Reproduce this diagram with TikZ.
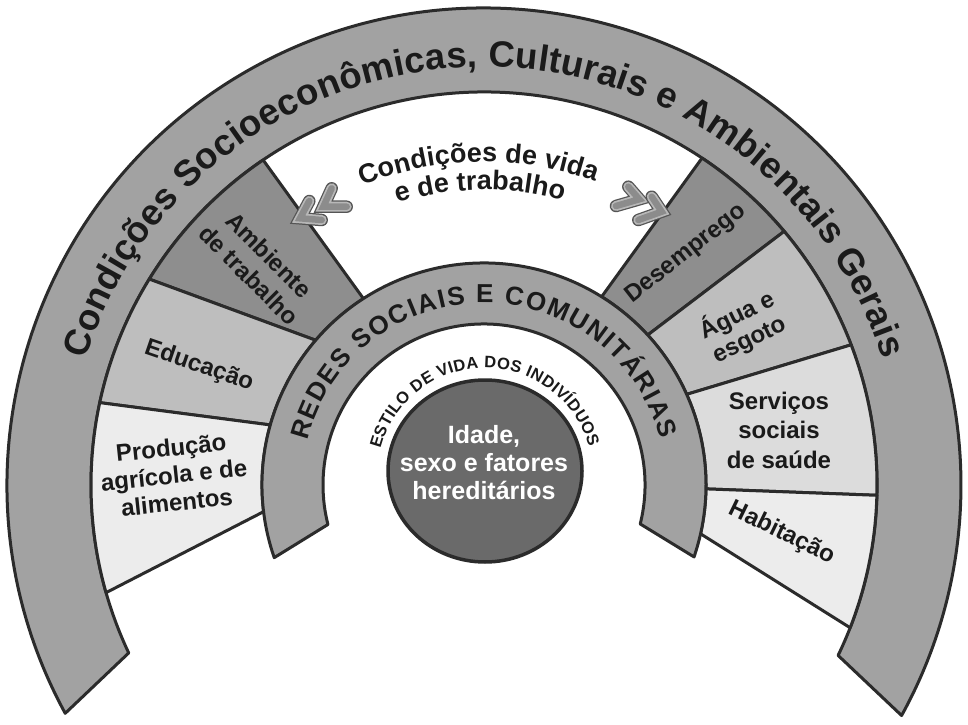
\documentclass[tikz,border=0pt]{standalone}
\usepackage{fontspec}
\setmainfont{Liberation Sans}
\usetikzlibrary{decorations.text}
\definecolor{ringc}{HTML}{A2A2A2}
\definecolor{darkc}{HTML}{8E8E8E}
\definecolor{medc}{HTML}{BEBEBE}
\definecolor{lightc}{HTML}{DCDCDC}
\definecolor{palec}{HTML}{ECECEC}
\definecolor{corec}{HTML}{6A6A6A}
\definecolor{linec}{HTML}{2B2B2B}
\definecolor{txtc}{HTML}{1A1A1A}
\definecolor{chevc}{HTML}{8C8C8C}
\definecolor{chevrim}{HTML}{B8B8B8}
\newcommand\ringfont{\fontsize{36.5}{40}\selectfont\bfseries\color{txtc}}
\newcommand\redesfont{\fontsize{26}{29}\selectfont\bfseries\color{txtc}}
\newcommand\estilofont{\fontsize{16.5}{18}\selectfont\bfseries\color{txtc}}
\newcommand\vidafont{\fontsize{27}{30}\selectfont\bfseries\color{txtc}}
\tikzset{
  ringline/.style={draw=linec, line width=3, line join=round},
  celltext/.style={font=\fontsize{24}{28.5}\selectfont\bfseries, text=txtc, align=center, inner sep=0pt},
  chevout/.style={line width=12.5, draw=linec!80, line join=miter, line cap=round},
  chevmid/.style={line width=10, draw=chevrim, line join=miter, line cap=round},
  chevin/.style={line width=6.5, draw=chevc, line join=miter, line cap=round}
}
\newcommand\dgcell[5]{\filldraw[ringline, fill=#1] (#2:393) arc[start angle=#2, end angle=#3, radius=393] -- (#4:222) arc[start angle=#4, end angle=#5, radius=222] -- cycle;}
\newcommand\dgchev[3]{\draw[chevout] #1 -- #2 -- #3; \draw[chevmid] #1 -- #2 -- #3; \draw[chevin] #1 -- #2 -- #3;}
\begin{document}
\begin{tikzpicture}[x=1pt,y=1pt]
\useasboundingbox (0,0) rectangle (968,724);
\fill[white] (0,0) rectangle (968,724);
\begin{scope}[shift={(484,239)}]
  % outer ring
  \filldraw[ringline, fill=ringc] (208.6:477) arc[start angle=208.6, end angle=-28.9, radius=477] -- (-25.7:393) arc[start angle=-25.7, end angle=205.3, radius=393] -- cycle;
  % cells left
  \dgcell{darkc}{124.2}{148.4}{139.3}{122.9}
  \dgcell{medc}{148.4}{167.9}{164.3}{139.3}
  \dgcell{palec}{167.9}{195.9}{186.9}{164.3}
  % cells right
  \dgcell{darkc}{56.3}{40.2}{42.5}{58}
  \dgcell{medc}{40.2}{20.9}{24.1}{42.5}
  \dgcell{lightc}{20.9}{-1.5}{-1}{24.1}
  \dgcell{palec}{-1.5}{-21.3}{-12.7}{-1}
  % middle ring
  \filldraw[ringline, fill=ringc] (199.1:222) arc[start angle=199.1, end angle=-18.9, radius=222] -- (-14:161) arc[start angle=-14, end angle=194.2, radius=161] -- cycle;
  % texts along arcs
  \path[decorate, decoration={text along path, text={|\ringfont|Condições Socioeconômicas{,} Culturais e Ambientais Gerais}, text align=fit to path}] (162.5:418) arc[start angle=162.5, end angle=17.5, radius=418];
  \path[decorate, decoration={text along path, text={|\redesfont|REDES SOCIAIS E COMUNITÁRIAS}, text align=fit to path}] (166:182) arc[start angle=166, end angle=14.5, radius=182];
  \path[decorate, decoration={text along path, text={|\vidafont|Condições de vida}, text align=center}] (151:323) arc[start angle=151, end angle=31, radius=323];
  \path[decorate, decoration={text along path, text={|\vidafont|e de trabalho}, text align=center}] (150.8:295) arc[start angle=150.8, end angle=30.8, radius=295];
\end{scope}
% core
\filldraw[ringline, line width=3.5, fill=corec] (485,253) ellipse[x radius=97, y radius=91];
\begin{scope}[shift={(485,248)}]
  \path[decorate, decoration={text along path, text={|\estilofont|ESTILO DE VIDA DOS INDIVÍDUOS}, text align=fit to path}] (165.5:108) arc[start angle=165.5, end angle=15.5, radius=108];
\end{scope}
\node[font=\fontsize{25}{28}\selectfont\bfseries, text=white, align=center, inner sep=0pt] (idade) at (484,261) {Idade,\\sexo e fatores\\hereditários};
% chevrons
\dgchev{(309.3,523)}{(300,505.7)}{(321.7,504)}
\dgchev{(331.7,535.7)}{(323.3,517.3)}{(346.7,517.3)}
\dgchev{(628.3,537.3)}{(639.3,524.7)}{(616,518)}
\dgchev{(651.7,527.3)}{(661.7,512.3)}{(638.3,504)}
% cell labels
\node[celltext, rotate=-45] (ambiente) at (259,459) {Ambiente\\de trabalho};
\node[celltext, rotate=-19] (educacao) at (199,358) {Educação};
\node[celltext, rotate=6, font=\fontsize{24}{27.5}\selectfont\bfseries] (producao) at (174,249) {Produção\\agrícola e de\\alimentos};
\node[celltext, rotate=38] (desemprego) at (686,470) {Desemprego};
\node[celltext, rotate=26, font=\fontsize{24}{27}\selectfont\bfseries] (agua) at (743,397) {Água e\\esgoto};
\node[celltext, font=\fontsize{24}{29.5}\selectfont\bfseries] (servicos) at (779,294) {Serviços\\sociais\\de saúde};
\node[celltext, rotate=-26] (habitacao) at (782,191) {Habitação};
\end{tikzpicture}
\end{document}
